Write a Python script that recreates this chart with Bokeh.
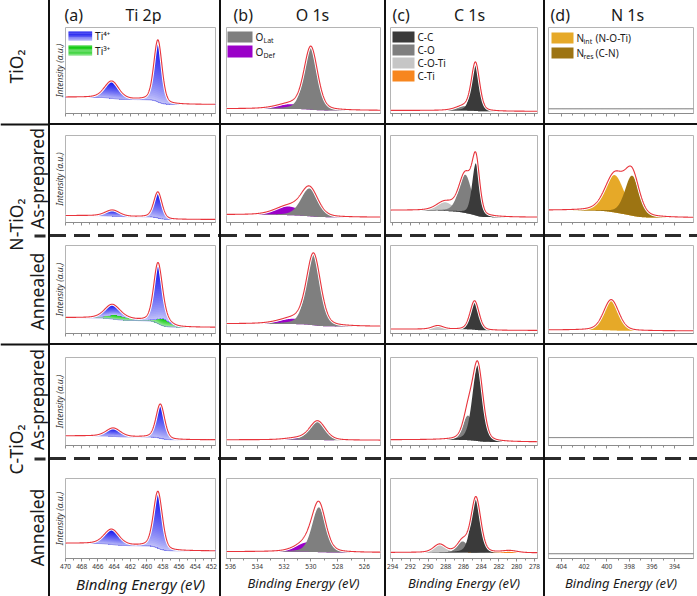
import numpy as np
from bokeh.plotting import figure
from bokeh.layouts import row, column
from bokeh.models import Range1d, FixedTicker, Label, BoxAnnotation, Spacer, Span
from bokeh.embed import file_html
from bokeh.resources import INLINE

FONT = "Noto Sans"
INK = "#1a1a1a"
RED = "#e8343c"

# ---------------- data ----------------
GROUP_LABELS = ["TiO₂", "N-TiO₂", "C-TiO₂"]
STATE_LABELS = ["As-prepared", "Annealed"]
HEADERS = [("(a)", "Ti 2p"), ("(b)", "O 1s"), ("(c)", "C 1s"), ("(d)", "N 1s")]
X_TITLE = "Binding Energy (eV)"
Y_TITLE = "Intensity (a.u.)"

TI_TICKS = [470, 468, 466, 464, 462, 460, 458, 456, 454, 452]
O_TICKS = [536, 534, 532, 530, 528, 526]
C_TICKS = [294, 292, 290, 288, 286, 284, 282, 280, 278]
N_TICKS = [404, 402, 400, 398, 396, 394]

# rows: TiO2, N-TiO2 as-prepared, N-TiO2 annealed, C-TiO2 as-prepared, C-TiO2 annealed
# Ti 2p
ti_bg_high = [0.19, 0.08, 0.18, 0.11, 0.19]
ti_bg_low = [0.105, 0.035, 0.07, 0.065, 0.095]
ti4_32_center = [458.6, 458.6, 458.6, 458.3, 458.6]
ti4_32_height = [0.72, 0.30, 0.64, 0.39, 0.71]
ti4_32_fwhm = [1.2, 1.2, 1.25, 1.25, 1.3]
ti4_12_center = [464.3, 464.2, 464.3, 464.1, 464.3]
ti4_12_height = [0.20, 0.07, 0.12, 0.095, 0.19]
ti4_12_fwhm = [2.1, 2.1, 2.1, 2.1, 2.2]
ti3_32_center = [457.9, 457.9, 457.9, 457.9, 457.9]
ti3_32_height = [0.0, 0.0, 0.08, 0.0, 0.0]
ti3_32_fwhm = [1.8, 1.8, 1.8, 1.8, 1.8]
ti3_12_center = [463.7, 463.7, 463.7, 463.7, 463.7]
ti3_12_height = [0.0, 0.0, 0.05, 0.0, 0.0]
ti3_12_fwhm = [3.0, 3.0, 3.0, 3.0, 3.0]

# O 1s
o_bg_high = [0.055, 0.09, 0.11, 0.065, 0.085]
o_bg_low = [0.035, 0.06, 0.08, 0.06, 0.075]
olat_center = [530.0, 530.1, 529.8, 529.5, 529.4]
olat_height = [0.72, 0.32, 0.80, 0.215, 0.56]
olat_fwhm = [1.2, 1.5, 1.25, 1.4, 1.2]
odef_center = [531.5, 531.7, 531.3, 531.0, 530.2]
odef_height = [0.055, 0.10, 0.06, 0.02, 0.12]
odef_fwhm = [2.4, 2.3, 2.5, 2.0, 2.0]

# C 1s
c_bg_high = [0.035, 0.14, 0.05, 0.065, 0.075]
c_bg_low = [0.025, 0.06, 0.035, 0.04, 0.07]
cc_center = [284.65, 284.6, 284.75, 284.4, 284.6]
cc_height = [0.55, 0.60, 0.33, 0.86, 0.69]
cc_fwhm = [1.1, 1.0, 1.2, 1.4, 1.3]
co_center = [285.9, 285.8, 285.8, 285.5, 286.1]
co_height = [0.05, 0.44, 0.0, 0.28, 0.14]
co_fwhm = [2.2, 1.7, 1.5, 1.3, 1.4]
coti_center = [288.5, 288.1, 288.9, 288.5, 288.7]
coti_height = [0.0, 0.10, 0.04, 0.0, 0.10]
coti_fwhm = [2.0, 2.2, 1.5, 2.0, 1.6]
cti_center = [281.0, 281.0, 281.0, 281.0, 280.8]
cti_height = [0.0, 0.0, 0.0, 0.0, 0.025]
cti_fwhm = [2.0, 2.0, 2.0, 2.0, 2.0]

# N 1s
n_bg_high = [0.055, 0.14, 0.04, 0.09, 0.06]
n_bg_low = [0.055, 0.055, 0.03, 0.09, 0.06]
nint_center = [399.3, 399.3, 399.6, 399.5, 399.5]
nint_height = [0.0, 0.43, 0.35, 0.0, 0.0]
nint_fwhm = [2.0, 2.0, 1.6, 1.8, 1.8]
nres_center = [397.75, 397.75, 397.75, 397.75, 397.75]
nres_height = [0.0, 0.46, 0.0, 0.0, 0.0]
nres_fwhm = [1.5, 1.5, 1.5, 1.5, 1.5]

# ---------------- styles / geometry ----------------
COL_TICKS = [TI_TICKS, O_TICKS, C_TICKS, N_TICKS]
BG = [(ti_bg_high, ti_bg_low), (o_bg_high, o_bg_low), (c_bg_high, c_bg_low), (n_bg_high, n_bg_low)]
COL_COMPONENTS = [
    [(ti3_32_center, ti3_32_height, ti3_32_fwhm, "ti3"), (ti3_12_center, ti3_12_height, ti3_12_fwhm, "ti3"),
     (ti4_32_center, ti4_32_height, ti4_32_fwhm, "ti4"), (ti4_12_center, ti4_12_height, ti4_12_fwhm, "ti4")],
    [(odef_center, odef_height, odef_fwhm, "odef"), (olat_center, olat_height, olat_fwhm, "olat")],
    [(coti_center, coti_height, coti_fwhm, "coti"), (co_center, co_height, co_fwhm, "co"),
     (cc_center, cc_height, cc_fwhm, "cc"), (cti_center, cti_height, cti_fwhm, "cti")],
    [(nint_center, nint_height, nint_fwhm, "nint"), (nres_center, nres_height, nres_fwhm, "nres")],
]
STACK_ON = {"ti4": ["ti3"]}
FILL = {"odef": "#9a00c8", "olat": "#7f7f7f", "coti": "#c6c6c6", "co": "#7f7f7f",
        "cc": "#3a3a3a", "cti": "#f7861e", "nint": "#e6a928", "nres": "#9d7412"}
GRAD = {"ti4": ((200, 200, 250), (12, 12, 238)), "ti3": ((180, 240, 180), (10, 200, 10))}

COL_X0 = [50, 221, 386, 545]
COL_W = [169, 163, 157, 152]
FRAME_X = [(63, 215), (226, 380), (390, 537), (548, 693)]
XR = [(470.0, 451.5), (536.3, 524.8), (294.23, 277.66), (405.15, 392.32)]
HDR_H = 24
ROW_Y0 = [24, 125, 237, 345, 460]
ROW_H = [99, 109, 106, 112, 136]
FRAME_Y = [(27, 113), (135, 222), (245, 333), (357, 445), (478, 562)]


def pv(E, c, h, w, m=0.3):
    u = (E - c) / w
    return h * ((1 - m) * np.exp(-4 * np.log(2) * u ** 2) + m / (1 + 4 * u ** 2))


def shirley(E, total, hi, lo):
    order = np.argsort(E)
    cum = np.zeros_like(E)
    cum[order] = np.cumsum(total[order])
    s = total.sum()
    frac = cum / s if s > 0 else np.zeros_like(E)
    return lo + (hi - lo) * frac


def hexc(rgb):
    return "#%02x%02x%02x" % tuple(int(round(v)) for v in rgb)


def mix(a, b, t):
    return tuple(a[k] + (b[k] - a[k]) * t for k in range(3))


def gradient_fill(p, E, base, comp, lo_rgb, hi_rgb, n=32):
    H = comp.max()
    for i in range(n, 0, -1):
        t = ((i - 0.5) / n) ** 0.75
        top = base + np.minimum(comp, H * i / n)
        p.varea(x=E, y1=base, y2=top, fill_color=hexc(mix(lo_rgb, hi_rgb, t)))


def to_data(ci, ri, gx, gy):
    fx0, fx1 = FRAME_X[ci]
    a, b = XR[ci]
    fy0, fy1 = FRAME_Y[ri]
    return a + (gx - fx0) / (fx1 - fx0) * (b - a), (fy1 - gy) / (fy1 - fy0)


def swatch(p, ci, box, colors):
    gx0, gx1, gy0, gy1 = box
    n = len(colors)
    for k, col in enumerate(colors):
        ya = gy0 + (gy1 - gy0) * k / n
        yb = gy0 + (gy1 - gy0) * (k + 1) / n
        l, t = to_data(ci, 0, gx0, ya)
        r, bt = to_data(ci, 0, gx1, yb)
        p.add_layout(BoxAnnotation(left=l, right=r, top=t, bottom=bt, fill_color=col,
                                   fill_alpha=1, line_color=None, level="overlay"))


def text(p, ci, gx, gy, s, size, align="left"):
    x, y = to_data(ci, 0, gx, gy)
    p.add_layout(Label(x=x, y=y, text=s, text_font=FONT, text_font_size=f"{size}px",
                       text_baseline="middle", text_align=align, text_color=INK))


def panel(ci, ri):
    x0g, w = COL_X0[ci], COL_W[ci]
    fx0, fx1 = FRAME_X[ci]
    y0g, h = ROW_Y0[ri], ROW_H[ri]
    fy0, fy1 = FRAME_Y[ri]
    p = figure(width=w, height=h, x_range=Range1d(*XR[ci]), y_range=Range1d(0, 1),
               output_backend="svg", toolbar_location=None, title=None,
               y_axis_location="left" if ci == 0 else None,
               min_border_left=fx0 - x0g, min_border_right=x0g + w - fx1,
               min_border_top=fy0 - y0g, min_border_bottom=y0g + h - fy1)
    p.grid.visible = False
    p.outline_line_color = "#b4b4b4"
    p.background_fill_color = "white"
    p.border_fill_color = "white"

    ticks = COL_TICKS[ci]
    minor = [(u + v) / 2 for u, v in zip(ticks[:-1], ticks[1:])]
    ax = p.xaxis[0]
    ax.ticker = FixedTicker(ticks=ticks, minor_ticks=minor)
    ax.axis_line_color = "#8c8c8c"
    ax.major_tick_line_color = "#8c8c8c"
    ax.minor_tick_line_color = "#8c8c8c"
    ax.major_tick_in = 0
    ax.major_tick_out = 3
    ax.minor_tick_in = 0
    ax.minor_tick_out = 2
    if ri == 4:
        ax.major_label_text_font = FONT
        ax.major_label_text_font_size = "6.5px"
        ax.major_label_text_color = "#333333"
        ax.major_label_standoff = 2
        ax.axis_label = X_TITLE
        ax.axis_label_text_font = FONT
        ax.axis_label_text_font_style = "italic"
        ax.axis_label_text_font_size = "15px" if ci == 0 else "13px"
        ax.axis_label_text_color = INK
        ax.axis_label_standoff = 2
    else:
        ax.major_label_overrides = {t: "" for t in ticks}
        ax.major_label_standoff = 0

    if ci == 0:
        ya = p.yaxis[0]
        ya.ticker = FixedTicker(ticks=[])
        ya.major_tick_in = 0
        ya.major_tick_out = 0
        ya.minor_tick_in = 0
        ya.minor_tick_out = 0
        ya.axis_line_color = None
        ya.major_label_standoff = 0
        ya.axis_label = Y_TITLE
        ya.axis_label_text_font = FONT
        ya.axis_label_text_font_style = "italic"
        ya.axis_label_text_font_size = "8.5px"
        ya.axis_label_text_color = "#333333"
        ya.axis_label_standoff = 1

    a, b = XR[ci]
    E = np.linspace(min(a, b), max(a, b), 700)
    comps = []
    for cs, hs, ws, key in COL_COMPONENTS[ci]:
        if hs[ri] > 0:
            comps.append((key, pv(E, cs[ri], hs[ri], ws[ri])))
    total = np.zeros_like(E)
    sums = {}
    for key, c in comps:
        total = total + c
        sums[key] = sums.get(key, 0) + c
    hi, lo = BG[ci][0][ri], BG[ci][1][ri]
    bg = shirley(E, total, hi, lo)
    for key, c in comps:
        base = bg.copy()
        for k in STACK_ON.get(key, []):
            base = base + sums.get(k, 0)
        if key in GRAD:
            gradient_fill(p, E, base, c, *GRAD[key])
        else:
            p.varea(x=E, y1=base, y2=base + c, fill_color=FILL[key])
    if ci == 0 and comps:
        p.line(E, bg, line_color="#8080e8", line_width=0.8)
    env = bg + sum(sums.values()) if comps else bg
    if comps:
        p.line(E, env, line_color="white", line_width=3)
        p.line(E, env, line_color=RED, line_width=1.1)
    else:
        p.line(E, env, line_color="#5a5a5a", line_width=1)
    return p


panels = [[panel(ci, ri) for ci in range(4)] for ri in range(5)]

# legends (top row)
gb = [hexc(mix(GRAD["ti4"][1], GRAD["ti4"][0], t)) for t in np.linspace(0, 0.7, 8)]
gg = [hexc(mix(GRAD["ti3"][1], GRAD["ti3"][0], t)) for t in np.linspace(0, 0.5, 8)]
pa, pb, pc, pd = panels[0]
swatch(pa, 0, (66, 90, 31, 40), gb)
swatch(pa, 0, (66, 90, 45, 55), gg)
text(pa, 0, 93, 35.5, "Ti⁴⁺", 10)
text(pa, 0, 93, 50, "Ti³⁺", 10)

swatch(pb, 1, (227, 252, 31, 42), [FILL["olat"]])
swatch(pb, 1, (227, 252, 45, 57), [FILL["odef"]])
for gy, sub in [(36.5, "Lat"), (51, "Def")]:
    text(pb, 1, 255, gy, "O", 10)
    text(pb, 1, 263, gy + 3.5, sub, 7)

for k, (key, lab) in enumerate([("cc", "C-C"), ("co", "C-O"), ("coti", "C-O-Ti"), ("cti", "C-Ti")]):
    gy0 = 31 + 13 * k
    swatch(pc, 2, (392, 414, gy0, gy0 + 11), [FILL[key]])
    text(pc, 2, 417, gy0 + 5.5, lab, 10)

for gy0, key, sub, rest in [(32, "nint", "int", "(N-O-Ti)"), (47, "nres", "res", "(C-N)")]:
    swatch(pd, 3, (551, 573, gy0, gy0 + 11), [FILL[key]])
    text(pd, 3, 576, gy0 + 5.5, "N", 10)
    text(pd, 3, 583, gy0 + 9, sub, 7)
    text(pd, 3, 595, gy0 + 5.5, rest, 10)


def blank(w, h):
    p = figure(width=w, height=h, x_range=Range1d(0, w), y_range=Range1d(h, 0),
               x_axis_type=None, y_axis_type=None, output_backend="svg",
               toolbar_location=None, title=None, min_border=0)
    p.outline_line_color = None
    p.background_fill_color = "white"
    p.border_fill_color = "white"
    return p


# header cells
LETTER_X = [64, 233, 392, 550]
TITLE_X = [143, 312, 469, 627]
headers = []
for ci in range(4):
    hp = blank(COL_W[ci], HDR_H)
    let, tit = HEADERS[ci]
    hp.add_layout(Label(x=LETTER_X[ci] - COL_X0[ci], y=14, text=let, text_font=FONT,
                        text_font_size="16px", text_baseline="middle", text_align="left", text_color=INK))
    hp.add_layout(Label(x=TITLE_X[ci] - COL_X0[ci], y=14, text=tit, text_font=FONT,
                        text_font_size="16px", text_baseline="middle", text_align="center", text_color=INK))
    headers.append(hp)

# left label column
lf = blank(48, 596)
for s, gy in zip(GROUP_LABELS, [66, 224, 449]):
    lf.add_layout(Label(x=15, y=gy, text=s, angle=np.pi / 2, text_font=FONT, text_font_size="17.5px",
                        text_baseline="middle", text_align="center", text_color=INK))
for s, gy in zip([STATE_LABELS[0], STATE_LABELS[1], STATE_LABELS[0], STATE_LABELS[1]], [178, 291, 399, 527]):
    lf.add_layout(Label(x=36.5, y=gy, text=s, angle=np.pi / 2, text_font=FONT, text_font_size="17.5px",
                        text_baseline="middle", text_align="center", text_color=INK))
for gy in [124, 344]:
    lf.add_layout(Span(location=gy, dimension="width", line_color="#111111", line_width=2))
for gy in [234, 457]:
    lf.add_layout(BoxAnnotation(left=34, right=45, top=gy, bottom=gy + 3, fill_color="#2b2b2b",
                                fill_alpha=1, line_color=None))


def vline(h):
    return Spacer(width=2, height=h, styles={"background-color": "#111111"})


DASH = ("repeating-linear-gradient(90deg, #2b2b2b 0px, #2b2b2b 16px, "
        "rgba(0,0,0,0) 16px, rgba(0,0,0,0) 24px)")


def interleave(cells, h):
    out = []
    for k, c in enumerate(cells):
        if k:
            out.append(vline(h))
        out.append(c)
    return row(*out)


def solid_sep():
    return Spacer(width=647, height=2, styles={"background-color": "#111111"})


def dashed_sep():
    return interleave([Spacer(width=w, height=3, styles={"background-image": DASH}) for w in COL_W], 3)


grid = column(
    interleave(headers, HDR_H),
    interleave(panels[0], ROW_H[0]),
    solid_sep(),
    interleave(panels[1], ROW_H[1]),
    dashed_sep(),
    interleave(panels[2], ROW_H[2]),
    solid_sep(),
    interleave(panels[3], ROW_H[3]),
    dashed_sep(),
    interleave(panels[4], ROW_H[4]),
)
root = row(row(lf, vline(596)), grid)

open("out.html", "w").write(file_html(root, INLINE, title="XPS spectra"))
